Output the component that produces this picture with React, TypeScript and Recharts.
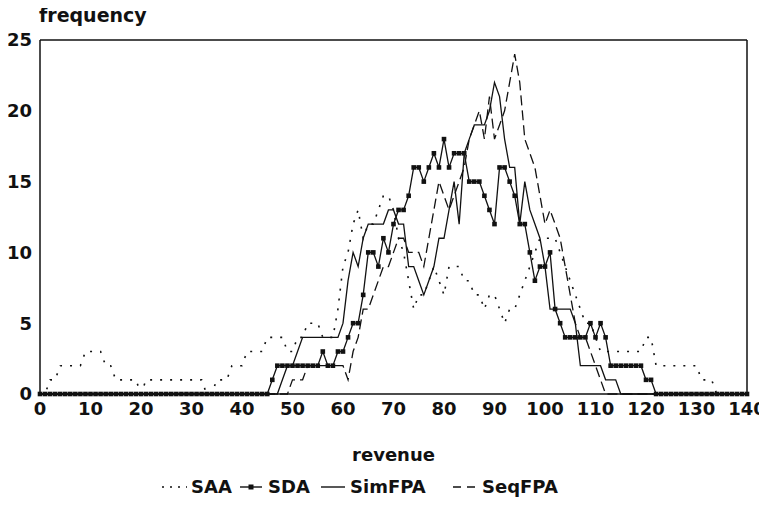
import React from 'react';
import { LineChart, Line, XAxis, YAxis, ReferenceLine, Legend } from 'recharts';

// revenue 0..140, one point per unit
const revenue = [
  0, 1, 2, 3, 4, 5, 6, 7, 8, 9, 10, 11, 12, 13, 14, 15, 16, 17, 18, 19,
  20, 21, 22, 23, 24, 25, 26, 27, 28, 29, 30, 31, 32, 33, 34, 35, 36, 37, 38, 39,
  40, 41, 42, 43, 44, 45, 46, 47, 48, 49, 50, 51, 52, 53, 54, 55, 56, 57, 58, 59,
  60, 61, 62, 63, 64, 65, 66, 67, 68, 69, 70, 71, 72, 73, 74, 75, 76, 77, 78, 79,
  80, 81, 82, 83, 84, 85, 86, 87, 88, 89, 90, 91, 92, 93, 94, 95, 96, 97, 98, 99,
  100, 101, 102, 103, 104, 105, 106, 107, 108, 109, 110, 111, 112, 113, 114, 115, 116, 117, 118, 119,
  120, 121, 122, 123, 124, 125, 126, 127, 128, 129, 130, 131, 132, 133, 134, 135, 136, 137, 138, 139,
  140,
];

const saa = [
  0, 0, 1, 1, 2, 2, 2, 2, 2, 3,
  3, 3, 3, 2, 2, 1, 1, 1, 1, 1,
  0, 1, 1, 1, 1, 1, 1, 1, 1, 1,
  1, 1, 1, 0, 0, 1, 1, 1, 2, 2,
  2, 3, 3, 3, 3, 4, 4, 4, 4, 3,
  3, 4, 4, 5, 5, 5, 4, 4, 4, 6,
  9, 10, 12, 13, 11, 12, 12, 13, 14, 14,
  13, 11, 10, 8, 6, 7, 7, 8, 9, 8,
  7, 9, 9, 9, 8, 8, 7, 7, 6, 7,
  7, 6, 5, 6, 6, 7, 8, 9, 10, 11,
  11, 11, 11, 10, 9, 8, 7, 6, 5, 5,
  4, 3, 3, 3, 3, 3, 3, 3, 3, 3,
  4, 4, 2, 2, 2, 2, 2, 2, 2, 2,
  2, 1, 1, 1, 0, 0, 0, 0, 0, 0,
  0,
];

const sda = [
  0, 0, 0, 0, 0, 0, 0, 0, 0, 0,
  0, 0, 0, 0, 0, 0, 0, 0, 0, 0,
  0, 0, 0, 0, 0, 0, 0, 0, 0, 0,
  0, 0, 0, 0, 0, 0, 0, 0, 0, 0,
  0, 0, 0, 0, 0, 0, 1, 2, 2, 2,
  2, 2, 2, 2, 2, 2, 3, 2, 2, 3,
  3, 4, 5, 5, 7, 10, 10, 9, 11, 10,
  12, 13, 13, 14, 16, 16, 15, 16, 17, 16,
  18, 16, 17, 17, 17, 15, 15, 15, 14, 13,
  12, 16, 16, 15, 14, 12, 12, 10, 8, 9,
  9, 10, 6, 5, 4, 4, 4, 4, 4, 5,
  4, 5, 4, 2, 2, 2, 2, 2, 2, 2,
  1, 1, 0, 0, 0, 0, 0, 0, 0, 0,
  0, 0, 0, 0, 0, 0, 0, 0, 0, 0,
  0,
];

const simFpa = [
  0, 0, 0, 0, 0, 0, 0, 0, 0, 0,
  0, 0, 0, 0, 0, 0, 0, 0, 0, 0,
  0, 0, 0, 0, 0, 0, 0, 0, 0, 0,
  0, 0, 0, 0, 0, 0, 0, 0, 0, 0,
  0, 0, 0, 0, 0, 0, 0, 0, 1, 2,
  2, 3, 4, 4, 4, 4, 4, 4, 4, 4,
  5, 8, 10, 9, 11, 12, 12, 12, 12, 13,
  13, 12, 12, 9, 9, 8, 7, 8, 9, 11,
  11, 13, 15, 12, 17, 18, 19, 19, 19, 20,
  22, 21, 18, 16, 16, 12, 15, 13, 12, 11,
  9, 6, 6, 6, 6, 6, 5, 2, 2, 2,
  2, 2, 1, 1, 1, 0, 0, 0, 0, 0,
  0, 0, 0, 0, 0, 0, 0, 0, 0, 0,
  0, 0, 0, 0, 0, 0, 0, 0, 0, 0,
  0,
];

const seqFpa = [
  0, 0, 0, 0, 0, 0, 0, 0, 0, 0,
  0, 0, 0, 0, 0, 0, 0, 0, 0, 0,
  0, 0, 0, 0, 0, 0, 0, 0, 0, 0,
  0, 0, 0, 0, 0, 0, 0, 0, 0, 0,
  0, 0, 0, 0, 0, 0, 0, 0, 0, 0,
  1, 1, 1, 2, 2, 2, 2, 2, 2, 2,
  2, 1, 3, 4, 6, 6, 7, 8, 9, 9,
  10, 11, 11, 10, 10, 10, 9, 11, 13, 15,
  14, 13, 14, 15, 16, 18, 19, 20, 18, 21,
  18, 19, 20, 22, 24, 22, 18, 17, 16, 14,
  12, 13, 12, 11, 9, 7, 5, 4, 4, 3,
  2, 1, 0, 0, 0, 0, 0, 0, 0, 0,
  0, 0, 0, 0, 0, 0, 0, 0, 0, 0,
  0, 0, 0, 0, 0, 0, 0, 0, 0, 0,
  0,
];

const xTicks = [0, 10, 20, 30, 40, 50, 60, 70, 80, 90, 100, 110, 120, 130, 140];
const yTicks = [0, 5, 10, 15, 20, 25];
const seriesNames = ['SAA', 'SDA', 'SimFPA', 'SeqFPA'];

const rows = revenue.map((r, i) => ({
  revenue: r,
  SAA: saa[i],
  SDA: sda[i],
  SimFPA: simFpa[i],
  SeqFPA: seqFpa[i],
}));

const FONT = '"DejaVu Sans", sans-serif';
const INK = '#111';
const tickStyle = { fill: INK, fontSize: 18, fontWeight: 700, fontFamily: FONT };

function SquareDot(props: any) {
  const { cx, cy, index } = props;
  if (cx == null || cy == null) return <g key={index} />;
  return <rect key={index} x={cx - 2.3} y={cy - 2.3} width={4.6} height={4.6} fill={INK} />;
}

function LegendIcon({ name }: { name: string }) {
  return (
    <svg width={26} height={20} style={{ display: 'block' }}>
      {name === 'SAA' && <line x1={1} y1={10} x2={26} y2={10} stroke={INK} strokeWidth={1.6} strokeDasharray="2 6" />}
      {name === 'SDA' && (
        <g>
          <line x1={2} y1={10} x2={24} y2={10} stroke={INK} strokeWidth={1.4} />
          <rect x={10.5} y={7.5} width={5} height={5} fill={INK} />
        </g>
      )}
      {name === 'SimFPA' && <line x1={1} y1={10} x2={25} y2={10} stroke={INK} strokeWidth={1.4} />}
      {name === 'SeqFPA' && <line x1={1} y1={10} x2={26} y2={10} stroke={INK} strokeWidth={1.4} strokeDasharray="8 6" />}
    </svg>
  );
}

// page x of each legend entry
const legendLeft = [161, 238, 320, 452];

function renderLegend() {
  return (
    <div style={{ position: 'relative', width: 767, height: 24 }}>
      {seriesNames.map((name, i) => (
        <div
          key={name}
          style={{
            position: 'absolute',
            left: legendLeft[i],
            top: 0,
            height: 24,
            display: 'flex',
            alignItems: 'center',
            gap: 4,
          }}
        >
          <LegendIcon name={name} />
          <span style={{ fontFamily: FONT, fontWeight: 700, fontSize: 18, color: INK, lineHeight: '24px' }}>{name}</span>
        </div>
      ))}
    </div>
  );
}

export default function App() {
  // cancel the body margin so chart coordinates equal page coordinates
  return (
    <div style={{ width: 767, height: 520, margin: '-8px 0 0 -8px' }}>
      <LineChart width={767} height={520} data={rows} margin={{ top: 40, right: 20, left: 0, bottom: 21 }}>
        <XAxis
          dataKey="revenue"
          type="number"
          domain={[0, 140]}
          ticks={xTicks}
          interval={0}
          tickLine={false}
          axisLine={{ stroke: INK, strokeWidth: 1.5 }}
          tick={tickStyle}
          height={81}
          label={{
            value: 'revenue',
            position: 'insideBottom',
            offset: 14,
            style: { fill: INK, fontSize: 18, fontWeight: 700, fontFamily: FONT },
          }}
        />
        <YAxis
          type="number"
          domain={[0, 25]}
          ticks={yTicks}
          interval={0}
          tickLine={false}
          axisLine={{ stroke: INK, strokeWidth: 1.5 }}
          tick={tickStyle}
          width={40}
          label={() => (
            <text x={39} y={22} fill={INK} fontSize={19} fontWeight={700} fontFamily={FONT}>
              frequency
            </text>
          )}
        />
        <ReferenceLine y={25} stroke={INK} strokeWidth={1.5} />
        <ReferenceLine x={140} stroke={INK} strokeWidth={1.5} />
        <Line type="linear" dataKey="SAA" stroke={INK} strokeWidth={1.6} strokeDasharray="2 8" dot={false} isAnimationActive={false} />
        <Line type="linear" dataKey="SDA" stroke={INK} strokeWidth={1.3} dot={SquareDot} activeDot={false} isAnimationActive={false} />
        <Line type="linear" dataKey="SimFPA" stroke={INK} strokeWidth={1.3} dot={false} isAnimationActive={false} />
        <Line type="linear" dataKey="SeqFPA" stroke={INK} strokeWidth={1.3} strokeDasharray="10 5" dot={false} isAnimationActive={false} />
        <Legend verticalAlign="bottom" content={renderLegend} wrapperStyle={{ height: 24, width: 767, left: 0 }} />
      </LineChart>
    </div>
  );
}
